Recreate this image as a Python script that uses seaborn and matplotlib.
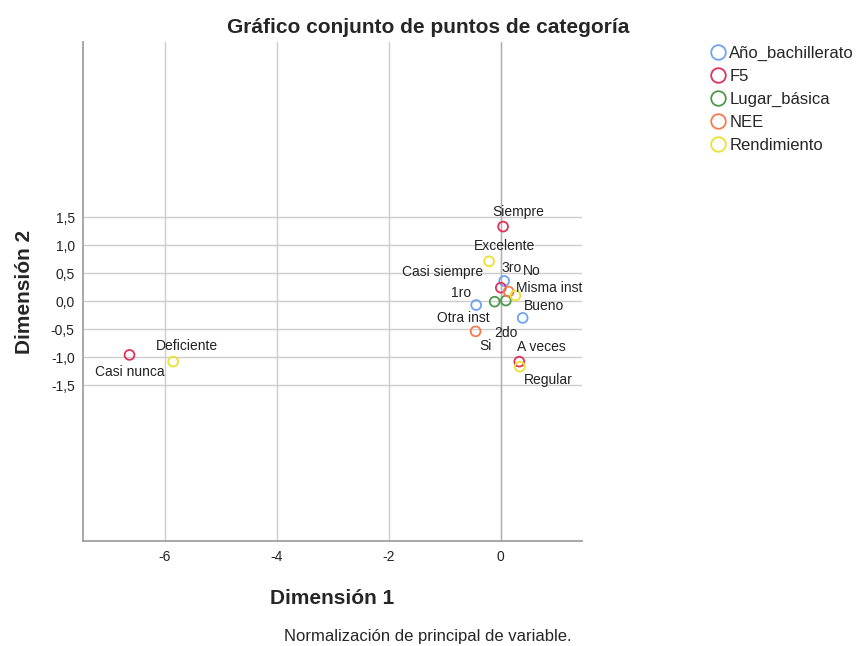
import pandas as pd
import matplotlib.pyplot as plt
import seaborn as sns
from matplotlib.lines import Line2D

# --- Data ---
variables = ['Año_bachillerato', 'F5', 'Lugar_básica', 'NEE', 'Rendimiento']
colors = ['#6fa3f0', '#e0325a', '#4a9a4a', '#f47c4c', '#ece030']

var_col = ['Año_bachillerato', 'Año_bachillerato', 'Año_bachillerato',
           'F5', 'F5', 'F5', 'F5',
           'Lugar_básica', 'Lugar_básica',
           'NEE', 'NEE',
           'Rendimiento', 'Rendimiento', 'Rendimiento', 'Rendimiento']
categories = ['1ro', '2do', '3ro',
              'Siempre', 'Casi siempre', 'A veces', 'Casi nunca',
              'Misma inst', 'Otra inst',
              'No', 'Si',
              'Excelente', 'Bueno', 'Regular', 'Deficiente']
dim1 = [-0.44, 0.39, 0.06,
        0.04, 0.00, 0.33, -6.63,
        0.09, -0.11,
        0.14, -0.45,
        -0.21, 0.26, 0.34, -5.85]
dim2 = [-0.07, -0.30, 0.36,
        1.33, 0.24, -1.08, -0.96,
        0.01, -0.01,
        0.17, -0.54,
        0.71, 0.10, -1.17, -1.08]

# label placement (offset in pixels, horizontal alignment)
label_style = {
    '1ro': (-5, 12, 'right'), '2do': (-17, -15, 'center'), '3ro': (7, 13, 'center'),
    'Siempre': (15, 15, 'center'), 'Casi siempre': (-18, 16, 'right'),
    'A veces': (-2, 15, 'left'), 'Casi nunca': (0, -17, 'center'),
    'Misma inst': (10, 13, 'left'), 'Otra inst': (-5, -16, 'right'),
    'No': (23, 21, 'center'), 'Si': (10, -15, 'center'),
    'Excelente': (15, 15, 'center'), 'Bueno': (8, -10, 'left'),
    'Regular': (4, -13, 'left'), 'Deficiente': (14, 16, 'center'),
}

df = pd.DataFrame({'var': var_col, 'cat': categories, 'd1': dim1, 'd2': dim2})

# --- Style ---
sns.set_style("white")
plt.rcParams['font.family'] = ['Liberation Sans', 'DejaVu Sans']

fig = plt.figure(figsize=(8.61, 6.46), dpi=100)
ax = fig.add_axes([0.0964, 0.1618, 0.5796, 0.7732])

sns.scatterplot(data=df, x='d1', y='d2', hue='var', hue_order=variables,
                palette=colors, s=50, linewidth=1.3, legend=False, ax=ax, zorder=3)
# hollow markers
coll = ax.collections[0]
fc = coll.get_facecolors()
coll.set_edgecolors(fc)
coll.set_facecolors('none')

for _, r in df.iterrows():
    dx, dy, ha = label_style[r['cat']]
    ax.annotate(r['cat'], (r['d1'], r['d2']), xytext=(dx, dy), textcoords='offset pixels',
                ha=ha, va='center', fontsize=10, color='#222222', zorder=4)

ax.set_xlim(-7.46, 1.45)
ax.set_ylim(-4.29, 4.625)
ax.set_xticks([-6, -4, -2, 0])
ax.set_xticklabels(['-6', '-4', '-2', '0'])
yt = [-1.5, -1.0, -0.5, 0.0, 0.5, 1.0, 1.5]
ax.set_yticks(yt)
ax.set_yticklabels([f'{v:.1f}'.replace('.', ',') for v in yt])
ax.tick_params(length=0, labelsize=10, pad=6, colors='#222222')
ax.grid(True, color='#cccccc', linewidth=1.0)
ax.axvline(0, color='#b0b0b0', linewidth=1.0, zorder=1)
for side in ['top', 'right']:
    ax.spines[side].set_visible(False)
for side in ['left', 'bottom']:
    ax.spines[side].set_color('#a0a0a0')
    ax.spines[side].set_linewidth(1.3)

ax.set_xlabel('Dimensión 1', fontsize=15, fontweight='bold', labelpad=18)
ax.set_ylabel('Dimensión 2', fontsize=15, fontweight='bold', labelpad=12)

fig.text(0.497, 0.958, 'Gráfico conjunto de puntos de categoría', ha='center', va='center',
         fontsize=15, fontweight='bold')
fig.text(0.497, 0.014, 'Normalización de principal de variable.', ha='center', va='center',
         fontsize=12)

handles = [Line2D([], [], marker='o', linestyle='none', markersize=10.5,
                  markerfacecolor='none', markeredgecolor=c, markeredgewidth=1.3)
           for c in colors]
fig.legend(handles, variables, loc='upper left', bbox_to_anchor=(0.815, 0.94),
           frameon=False, fontsize=12, handletextpad=0.05, labelspacing=0.48,
           handlelength=1.2, borderaxespad=0)

plt.savefig('out.png', dpi=100)
